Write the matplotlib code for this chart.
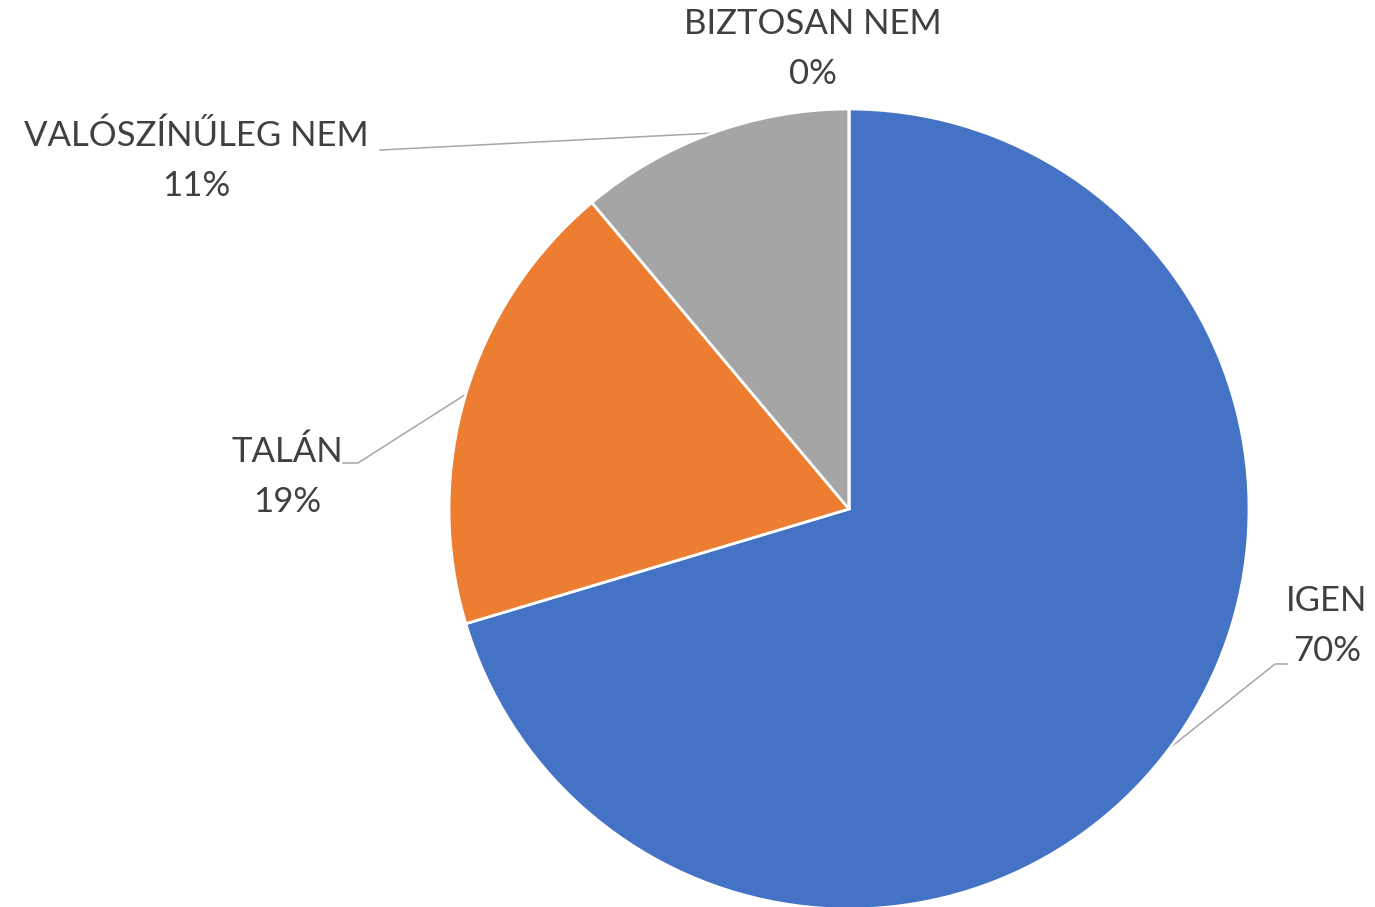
import numpy as np
import matplotlib
matplotlib.use("Agg")
import matplotlib.pyplot as plt

# answers (counts) and labels
labels = ["IGEN", "TALÁN", "VALÓSZÍNŰLEG NEM", "BIZTOSAN NEM"]
counts = [19, 5, 3, 0]
colors = ["#4472C4", "#ED7D31", "#A5A5A5", "#FFC000"]

W, H = 1375, 907
fig = plt.figure(figsize=(W / 100, H / 100), dpi=100)
ax = fig.add_axes([0, 0, 1, 1])

cx, cy, r = 849, H - 509, 400
wedges, _ = ax.pie(counts, colors=colors, startangle=90, counterclock=False,
                   center=(cx, cy), radius=r, frame=True,
                   wedgeprops=dict(edgecolor="white", linewidth=2))
ax.set_xlim(0, W)
ax.set_ylim(0, H)
ax.set_aspect("equal")
ax.axis("off")

total = sum(counts)
txt = dict(fontsize=25, color="#404040", family=["Lato", "DejaVu Sans"],
           ha="center", va="center")

# label layout: (text x, text y in px from top, leader elbow or None)
layout = {
    "IGEN": (1327, 626, [(1275, 664), (1287, 664)]),
    "TALÁN": (287, 477, [(358, 463), (343, 463)]),
    "VALÓSZÍNŰLEG NEM": (196, 161, [(380, 150)]),
    "BIZTOSAN NEM": (813, 49, None),
}

for w, lab, n in zip(wedges, labels, counts):
    tx, ty, elbow = layout[lab]
    pct = round(100 * n / total)
    ax.text(tx, H - ty, f"{lab}\n{pct}%", linespacing=1.68, **txt)
    if elbow is not None:
        mid = np.deg2rad((w.theta1 + w.theta2) / 2)
        xs = [cx + r * np.cos(mid)] + [p[0] for p in elbow]
        ys = [cy + r * np.sin(mid)] + [H - p[1] for p in elbow]
        ax.plot(xs, ys, color="#A6A6A6", lw=1.1, zorder=0.5)

fig.savefig("out.png", dpi=100)
